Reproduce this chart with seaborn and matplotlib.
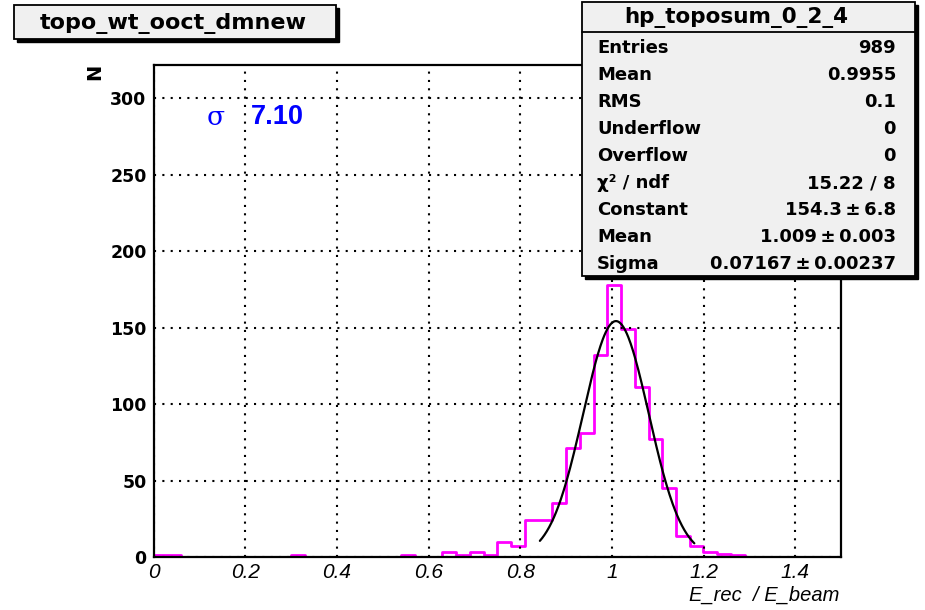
import numpy as np
import pandas as pd
import seaborn as sns
import matplotlib.pyplot as plt
from matplotlib.patches import Rectangle
from matplotlib.ticker import MultipleLocator, FuncFormatter

# histogram: 50 bins of width 0.03 between 0 and 1.5
bin_lo = 0.0
bin_hi = 1.5
bin_width = 0.03
counts = [
    1, 1, 0, 0, 0, 0, 0, 0, 0, 0,        # 0.00 - 0.30
    1, 0, 0, 0, 0, 0, 0, 0, 1, 0,        # 0.30 - 0.60
    0, 3, 1, 3, 1, 10, 7, 24, 24, 35,    # 0.60 - 0.90
    71, 81, 132, 178, 149, 111, 77, 45, 14, 7,  # 0.90 - 1.20
    3, 2, 1, 0, 0, 0, 0, 0, 0, 0,        # 1.20 - 1.50
]

# gaussian fit as quoted in the stat box
fit_const = 154.3
fit_mean = 1.009
fit_sigma = 0.07167
fit_range = (0.843, 1.18)

hist_name = "hp_toposum_0_2_4"
stat_labels = ["Entries", "Mean", "RMS", "Underflow", "Overflow",
               "\u03c7\u00b2 / ndf", "Constant", "Mean", "Sigma"]
stat_values = ["989", "0.9955", "0.1", "0", "0", "15.22 / 8",
               "154.3\u2009\u00b1\u20096.8", "1.009\u2009\u00b1\u20090.003",
               "0.07167\u2009\u00b1\u20090.00237"]
canvas_title = "topo_wt_ooct_dmnew"
sigma_text = "7.10"

sns.set_style("white")
plt.rcParams["font.family"] = ["Liberation Sans", "DejaVu Sans"]
for k in ["text.color", "axes.labelcolor", "xtick.color", "ytick.color"]:
    plt.rcParams[k] = "black"

BOLD = ["DejaVu Sans"]

W, H = 925, 610
fig = plt.figure(figsize=(W / 100, H / 100), dpi=100)
fig.patch.set_facecolor("white")

def fx(px):
    return px / W

def fy(py):
    return 1 - py / H

ax = fig.add_axes([fx(153.5), fy(557), fx(841) - fx(153.5), fy(65) - fy(557)])
ax.set_facecolor("white")

n_bins = len(counts)
centers = bin_lo + bin_width * (np.arange(n_bins) + 0.5)
df = pd.DataFrame({"x": centers, "n": counts})
sns.histplot(data=df, x="x", weights="n", binwidth=bin_width,
             binrange=(bin_lo, bin_hi), element="step",
             fill=False, color="#ff00ff", linewidth=2, ax=ax)

xf = np.linspace(fit_range[0], fit_range[1], 200)
yf = fit_const * np.exp(-0.5 * ((xf - fit_mean) / fit_sigma) ** 2)
sns.lineplot(x=xf, y=yf, color="black", linewidth=1.6, sort=False,
             estimator=None, ax=ax)

ax.set_xlim(0, 1.5)
ax.set_ylim(0, 321.8)
ax.xaxis.set_major_locator(MultipleLocator(0.2))
ax.xaxis.set_minor_locator(MultipleLocator(0.05))
ax.yaxis.set_major_locator(MultipleLocator(50))
ax.yaxis.set_minor_locator(MultipleLocator(10))
ax.xaxis.set_major_formatter(FuncFormatter(lambda v, p: "%g" % round(v, 3)))
ax.grid(True, which="major", color="black", linestyle=(0, (1, 3)), linewidth=1.5)
ax.set_axisbelow(False)

ax.tick_params(axis="both", which="both", direction="in", top=False, right=False,
               color="black", width=1.5)
ax.tick_params(axis="y", which="major", length=16, pad=5, labelsize=12.5)
ax.tick_params(axis="y", which="minor", length=8.5)
ax.tick_params(axis="x", which="major", length=8.5, pad=4, labelsize=15)
ax.tick_params(axis="x", which="minor", length=4.3)
for lab in ax.get_yticklabels():
    lab.set_fontweight("bold")
    lab.set_family(BOLD)
for lab in ax.get_xticklabels():
    lab.set_fontstyle("italic")
for s in ax.spines.values():
    s.set_color("black")
    s.set_linewidth(1.6)
ax.set_xlabel("")
ax.set_ylabel("")

fig.text(fx(95), fy(72), "N", rotation=90, fontsize=14, fontweight="bold",
         ha="center", va="center", family=BOLD)
fig.text(fx(839), fy(595), "E_rec  / E_beam", fontsize=14.5, fontstyle="italic",
         ha="right", va="center")

# sigma annotation
fig.text(fx(207), fy(117), "\u03c3", fontsize=19, color="#0000ff",
         ha="left", va="center", family="DejaVu Serif")
fig.text(fx(251), fy(117), sigma_text, fontsize=19.5, color="#0000ff",
         fontweight="bold", ha="left", va="center")

# boxes with ROOT-like drop shadow
def shadow_box(x0, y0, x1, y1, off=3):
    fig.patches.append(Rectangle((fx(x0 + off), fy(y1 + off)), fx(x1 - x0), fy(y0) - fy(y1),
                                 transform=fig.transFigure, facecolor="black",
                                 edgecolor="black", zorder=5))
    fig.patches.append(Rectangle((fx(x0), fy(y1)), fx(x1 - x0), fy(y0) - fy(y1),
                                 transform=fig.transFigure, facecolor="#f0f0f0",
                                 edgecolor="black", linewidth=1.3, zorder=6))

shadow_box(14, 5, 336, 39)
fig.text(fx(173), fy(23), canvas_title, fontsize=16, fontweight="bold",
         ha="center", va="center", zorder=7, family=BOLD)

# stat box
shadow_box(582, 2, 915, 276, off=3)
fig.add_artist(plt.Line2D([fx(582), fx(915)], [fy(32), fy(32)],
                          transform=fig.transFigure, color="black", lw=1.3, zorder=7))
fig.text(fx(736), fy(17), hist_name, fontsize=15.5, fontweight="bold",
         ha="center", va="center", zorder=7, family=BOLD)
for i, (lab, val) in enumerate(zip(stat_labels, stat_values)):
    yy = fy(48 + i * 27)
    fig.text(fx(597), yy, lab, fontsize=13, fontweight="bold",
             ha="left", va="center", zorder=7, family=BOLD)
    fig.text(fx(896), yy, val, fontsize=13, fontweight="bold",
             ha="right", va="center", zorder=7, family=BOLD)

fig.savefig("out.png", dpi=100, facecolor="white")
